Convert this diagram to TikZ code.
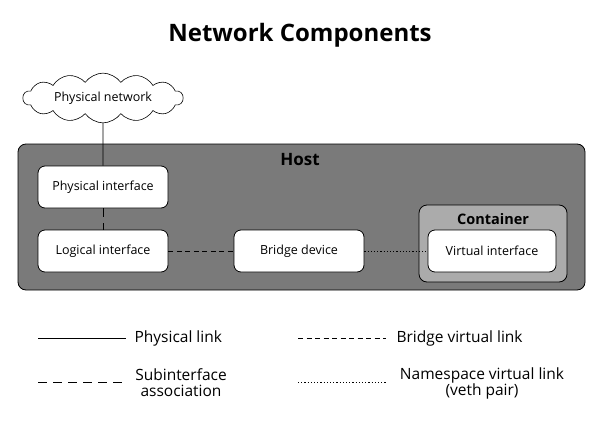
\documentclass[tikz,border=0pt]{standalone}
\usepackage{fontspec}
\setmainfont{Open Sans}
\usetikzlibrary{shapes.symbols}
\begin{document}
\begin{tikzpicture}[x=1pt,y=-1pt,
  box/.style={draw=black,fill=white,rounded corners=7pt,line width=0.8pt,minimum width=130pt,minimum height=42pt,font=\fontsize{12.5}{14}\selectfont},
  lbl/.style={font=\fontsize{15.5}{16}\selectfont,align=center},
  sub/.style={dash pattern=on 9pt off 6pt,line width=0.9pt},
  brg/.style={dash pattern=on 5pt off 3.5pt,line width=0.9pt},
  ns/.style={dash pattern=on 1.2pt off 2pt,line width=1pt},
  phys/.style={line width=0.9pt}]
\useasboundingbox (0,0) rectangle (601,423);
\node[font=\fontsize{24}{26}\selectfont] (title) at (300,35) {\textbf{Network Components}};
\node[cloud,cloud puffs=14,cloud puff arc=110,aspect=4,draw,fill=white,line width=0.6pt,minimum width=160pt,minimum height=40pt,inner sep=0pt,font=\fontsize{12.5}{14}\selectfont] (cloud) at (103,98) {Physical network};
\node[draw,fill=black!52,rounded corners=8pt,line width=0.8pt,minimum width=567pt,minimum height=146pt] (host) at (301.5,217) {};
\node[font=\fontsize{17}{19}\selectfont\bfseries] (hostl) at (300,160) {Host};
\node[draw,fill=black!33,rounded corners=8pt,line width=0.8pt,minimum width=148pt,minimum height=77pt] (cont) at (493,243.5) {};
\node[font=\fontsize{14.5}{16}\selectfont\bfseries] (contl) at (493,219) {Container};
\node[box] (pi) at (103,187) {Physical interface};
\node[box] (li) at (103,251) {Logical interface};
\node[box] (bd) at (299,251) {Bridge device};
\node[box,minimum width=128pt] (vi) at (492,251) {Virtual interface};
\draw[phys] (cloud.south) -- (pi.north);
\draw[sub] (pi.south) -- (li.north);
\draw[brg] (li.east) -- (bd.west);
\draw[ns] (bd.east) -- (vi.west);
% legend
\coordinate (a1) at (38,338); \coordinate (a2) at (126,338);
\coordinate (b1) at (298,338); \coordinate (b2) at (386,338);
\coordinate (c1) at (38,382); \coordinate (c2) at (126,382);
\coordinate (d1) at (298,382); \coordinate (d2) at (386,382);
\draw[phys] (a1) -- (a2);
\draw[brg] (b1) -- (b2);
\draw[sub] (c1) -- (c2);
\draw[ns] (d1) -- (d2);
\node[lbl,anchor=west] (l1) at (131,338) {Physical link};
\node[lbl,anchor=west] (l2) at (393,338) {Bridge virtual link};
\node[lbl] (l3) at (181,383) {Subinterface\\association};
\node[lbl] (l4) at (482,383) {Namespace virtual link\\(veth pair)};
\end{tikzpicture}
\end{document}
